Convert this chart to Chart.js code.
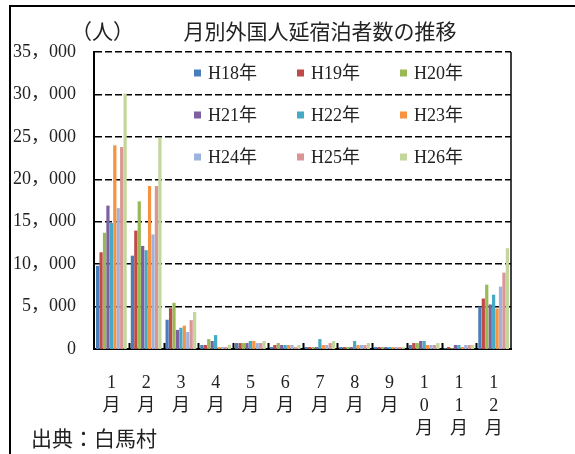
<!DOCTYPE html>
<html>
<head>
<meta charset="utf-8">
<script src="https://cdn.jsdelivr.net/npm/chart.js@4.4.1/dist/chart.umd.min.js"></script>
<style>
  html, body { margin: 0; padding: 0; background: #fff; }
  canvas { display: block; }
</style>
</head>
<body>
<canvas id="chart" width="575" height="454"></canvas>
<script>
// Month labels, stacked vertically one character per line
const months = [
  ['1', '月'], ['2', '月'], ['3', '月'], ['4', '月'], ['5', '月'], ['6', '月'],
  ['7', '月'], ['8', '月'], ['9', '月'], ['1', '0', '月'], ['1', '1', '月'], ['1', '2', '月']
];

const seriesNames = ['H18年', 'H19年', 'H20年', 'H21年', 'H22年', 'H23年', 'H24年', 'H25年', 'H26年'];
const seriesColors = ['#4A7EBB', '#BE4B48', '#98B954', '#7D60A0', '#46AAC5', '#F69240', '#9DB3DE', '#DA9694', '#C3D69B'];

// Foreign overnight guests per month (persons)
const h18 = [9800, 11000, 3450, 470, 700, 230, 230, 230, 230, 470, 100, 5000];
const h19 = [11400, 13950, 4800, 470, 700, 470, 230, 230, 230, 700, 230, 5950];
const h20 = [13700, 17400, 5450, 1170, 700, 700, 230, 230, 230, 700, 100, 7580];
const h21 = [16900, 12150, 2250, 940, 700, 470, 230, 230, 230, 940, 470, 5250];
const h22 = [14850, 11650, 2500, 1640, 940, 470, 1170, 940, 230, 940, 470, 6400];
const h23 = [24000, 19200, 2750, 230, 940, 470, 470, 470, 230, 470, 230, 4770];
const h24 = [16600, 13500, 2000, 230, 700, 470, 470, 470, 230, 470, 470, 7350];
const h25 = [23800, 19200, 3400, 230, 700, 230, 700, 470, 230, 470, 470, 9000];
const h26 = [30100, 24900, 4350, 470, 940, 470, 940, 700, 230, 700, 470, 11880];
const seriesValues = [h18, h19, h20, h21, h22, h23, h24, h25, h26];

const yTickLabels = ['0', '5，000', '10，000', '15，000', '20，000', '25，000', '30，000', '35，000'];

const chartTitle = '月別外国人延宿泊者数の推移';
const unitLabel = '（人）';
const sourceNote = '出典：白馬村';

const serif = "'Liberation Serif', 'Noto Sans CJK JP'";
const cjk = "'Noto Sans CJK JP', 'Liberation Serif'";

// Frame, titles, inner tick marks, right border and the 3x3 legend
const decorations = {
  id: 'decorations',
  afterDatasetsDraw(chart) {
    const { ctx, chartArea: a, scales: { x } } = chart;
    ctx.save();
    // right edge of the plot area
    ctx.strokeStyle = '#000';
    ctx.lineWidth = 1.5;
    ctx.beginPath();
    ctx.moveTo(a.right, a.top);
    ctx.lineTo(a.right, a.bottom);
    ctx.stroke();
    // short tick marks between month groups, pointing up into the plot
    const step = x.getPixelForValue(1) - x.getPixelForValue(0);
    ctx.lineWidth = 2;
    for (let i = 1; i < months.length; i++) {
      const bx = Math.round(x.getPixelForValue(i) - step / 2) + 0.5;
      ctx.beginPath();
      ctx.moveTo(bx, a.bottom);
      ctx.lineTo(bx, a.bottom - 6);
      ctx.stroke();
    }
    ctx.restore();
  },
  afterDraw(chart) {
    const { ctx, chartArea: a } = chart;
    ctx.save();
    // outer frame (top and left sides)
    ctx.strokeStyle = '#000';
    ctx.lineWidth = 2;
    ctx.beginPath();
    ctx.moveTo(575, 6);
    ctx.lineTo(10, 6);
    ctx.lineTo(10, 454);
    ctx.stroke();

    ctx.fillStyle = '#222';
    ctx.textBaseline = 'middle';
    ctx.font = '21px ' + cjk;
    ctx.textAlign = 'left';
    ctx.fillText(unitLabel, 71, 31);
    ctx.textAlign = 'center';
    ctx.fillText(chartTitle, 320, 31);
    ctx.textAlign = 'left';
    ctx.fillText(sourceNote, 31, 438);

    // legend: three columns, three rows inside the plot
    ctx.font = '18px ' + serif;
    chart.data.datasets.forEach((ds, i) => {
      const col = i % 3, row = Math.floor(i / 3);
      const lx = a.left + 100 + col * 103;
      const ly = a.top + 21 + row * 42;
      ctx.fillStyle = ds.backgroundColor;
      ctx.fillRect(lx, ly - 3.5, 7, 7);
      ctx.fillStyle = '#222';
      ctx.fillText(ds.label, lx + 14, ly + 1);
    });
    ctx.restore();
  }
};

new Chart(document.getElementById('chart'), {
  type: 'bar',
  data: {
    labels: months,
    datasets: seriesNames.map((name, i) => ({
      label: name,
      data: seriesValues[i],
      backgroundColor: seriesColors[i],
      borderWidth: 0,
      categoryPercentage: 0.89,
      barPercentage: 0.94
    }))
  },
  options: {
    responsive: false,
    animation: false,
    devicePixelRatio: 1,
    layout: { padding: { top: 52, right: 64, left: 0, bottom: 0 } },
    plugins: {
      legend: { display: false },
      tooltip: { enabled: false },
      title: { display: false }
    },
    scales: {
      x: {
        grid: { display: false },
        border: { display: true, color: '#000', width: 2 },
        ticks: {
          color: '#222',
          padding: 15,
          maxRotation: 0,
          autoSkip: false,
          font: { family: serif, size: 18, lineHeight: '23px' }
        },
        afterFit(scale) { scale.height = 105; }
      },
      y: {
        min: 0,
        max: 35000,
        ticks: {
          stepSize: 5000,
          color: '#222',
          padding: 18,
          font: { family: serif, size: 18 },
          callback: (v, i) => yTickLabels[i]
        },
        grid: {
          drawTicks: false,
          color: '#000',
          lineWidth: ctx => (ctx.tick && ctx.tick.value === 0 ? 0 : 1.5)
        },
        border: { display: true, color: '#000', width: 2, dash: [7, 3] },
        afterFit(scale) { scale.width = 94; }
      }
    }
  },
  plugins: [decorations]
});
</script>
</body>
</html>
